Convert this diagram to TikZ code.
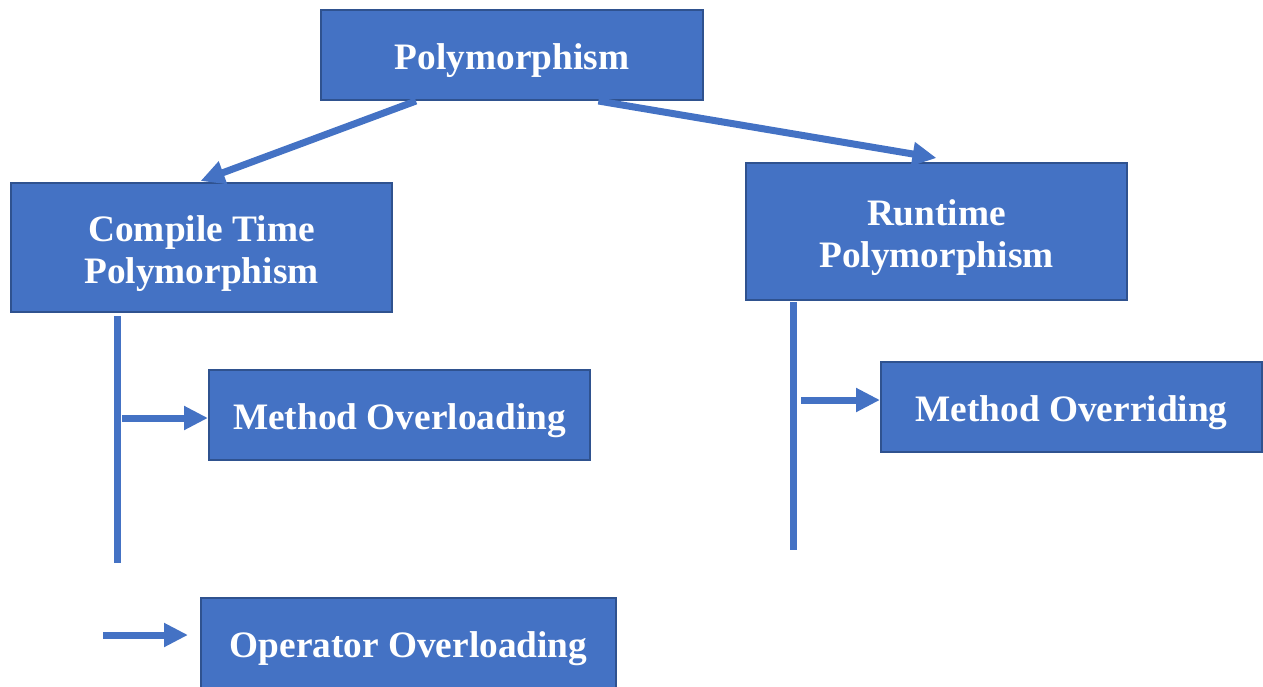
\documentclass[tikz,border=0pt]{standalone}
\usepackage{fontspec}
\setmainfont{Liberation Serif}
\usetikzlibrary{arrows.meta,calc}
\definecolor{boxfill}{HTML}{4472C4}
\definecolor{boxedge}{HTML}{2F528F}
\begin{document}
\begin{tikzpicture}[x=0.75pt,y=-0.75pt,
  box/.style={draw=boxedge,line width=1.5pt,fill=boxfill,inner sep=0pt},
  boxtext/.style={text=white,font=\fontsize{28}{31.5}\selectfont\bfseries,
    align=center,inner sep=0pt,yshift=-4.5pt},
  link/.style={draw=boxfill,line width=5.25pt},
  arr/.style={link,-{Triangle[length=18pt,width=17pt]}}]
\useasboundingbox (0,0) rectangle (1263,686);
\clip (0,0) rectangle (1263,686);

% boxes
\node[box,minimum width=286.5pt,minimum height=67.5pt,
  label={[boxtext]center:Polymorphism}] (poly) at (512,55) {};
\node[box,minimum width=285.75pt,minimum height=96.75pt,
  label={[boxtext]center:Compile Time\\Polymorphism}] (comp) at (201.5,247.5) {};
\node[box,minimum width=285.75pt,minimum height=102.75pt,
  label={[boxtext]center:Runtime\\Polymorphism}] (run) at (936.5,231.5) {};
\node[box,minimum width=285.75pt,minimum height=67.5pt,
  label={[boxtext]center:Method Overloading}] (movl) at (399.5,415) {};
\node[box,minimum width=285.75pt,minimum height=67.5pt,
  label={[boxtext]center:Method Overriding}] (movr) at (1071.5,407) {};
\node[box,minimum width=311.25pt,minimum height=67.5pt,
  label={[boxtext]center:Operator Overloading}] (opov) at (408.5,643) {};

% branches from the root
\coordinate (polyL) at ($(poly.south west)!0.25!(poly.south east)$);
\coordinate (polyR) at ($(poly.south west)!0.725!(poly.south east)$);
\draw[arr] (polyL) -- ($(comp.north)+(-1,-1)$);
\draw[arr] (polyR) -- ($(run.north)+(0,-4)$);

% compile time stem
\coordinate (cTop) at (117,316);
\coordinate (cBot) at (117,563);
\draw[link] (cTop) -- (cBot);
\coordinate (cA) at (122,418);
\draw[arr] (cA) -- (cA -| movl.west);
\coordinate (cB) at (103,635);
\draw[arr] (cB) -- ($(cB -| opov.west)+(-12,0)$);

% runtime stem
\coordinate (rTop) at (793,302);
\coordinate (rBot) at (793,550);
\draw[link] (rTop) -- (rBot);
\coordinate (rA) at (801,400);
\draw[arr] (rA) -- (rA -| movr.west);
\end{tikzpicture}
\end{document}
